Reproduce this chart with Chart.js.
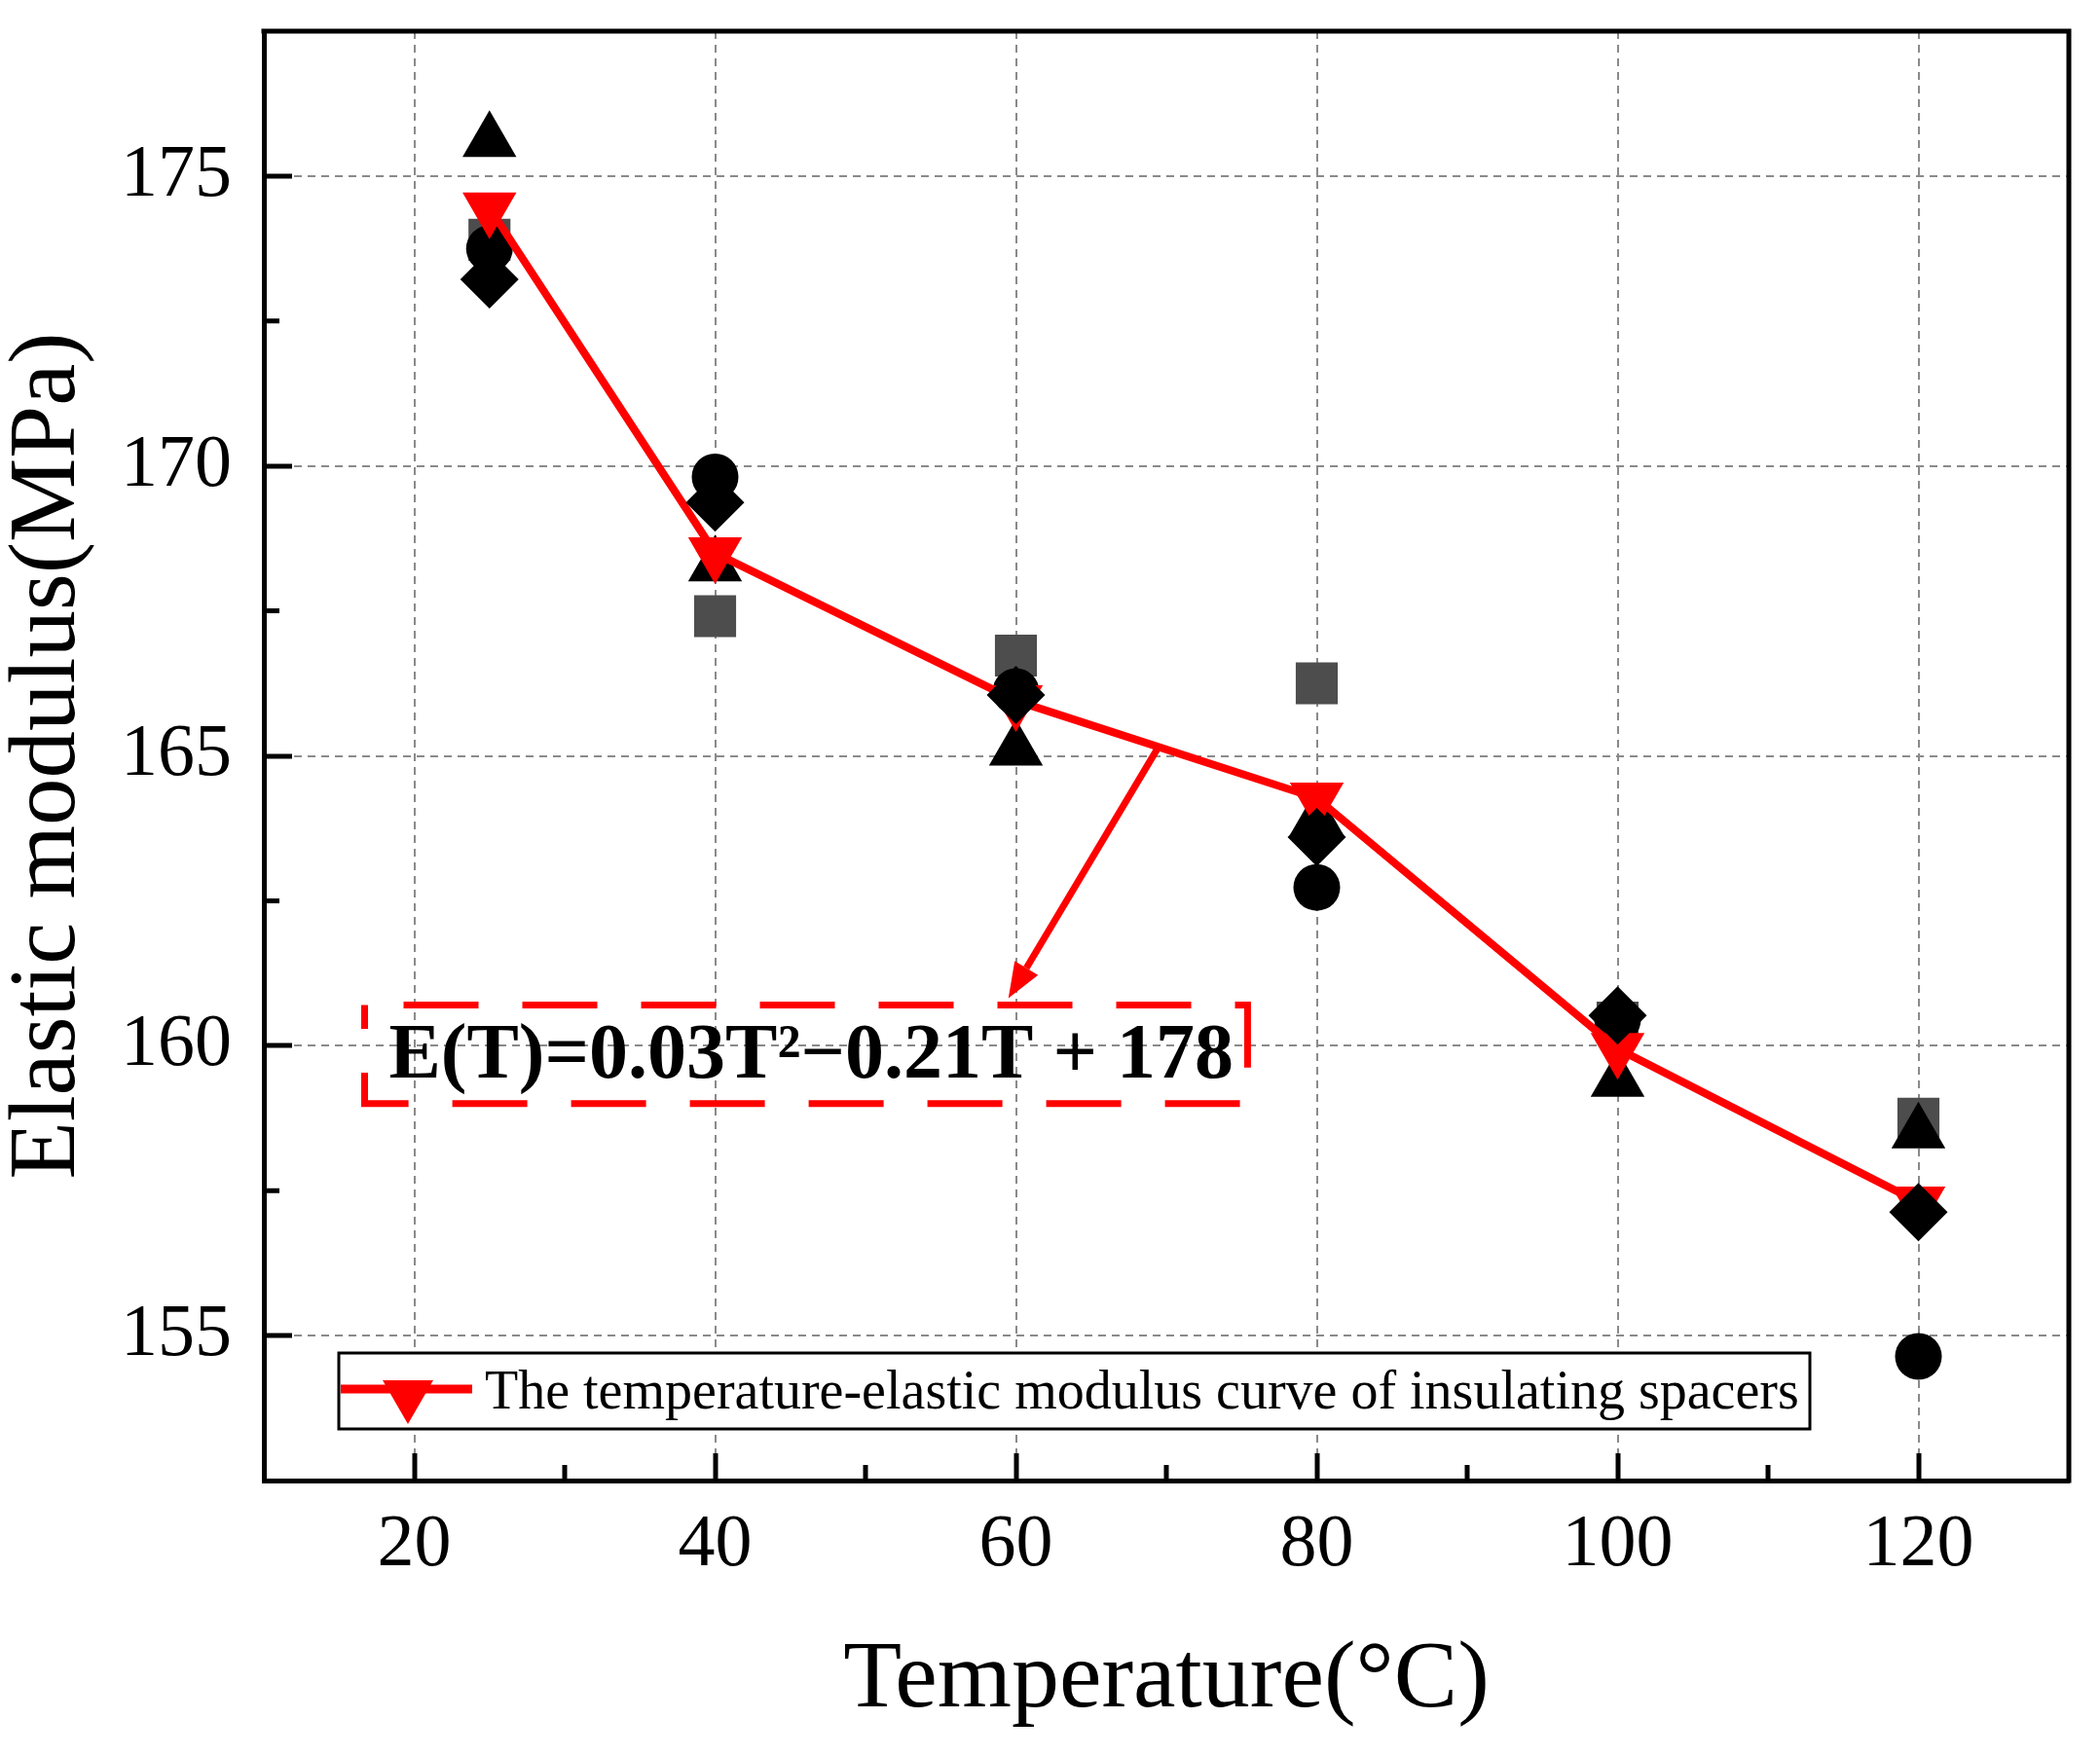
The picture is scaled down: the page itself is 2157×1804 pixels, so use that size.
<!DOCTYPE html>
<html>
<head>
<meta charset="utf-8">
<title>Elastic modulus vs temperature</title>
<script src="https://cdn.jsdelivr.net/npm/chart.js@4.4.0/dist/chart.umd.min.js"></script>
<style>
  html, body { margin: 0; padding: 0; background: #fff; }
  #wrap { width: 2157px; height: 1804px; }
</style>
</head>
<body>
<div id="wrap"><canvas id="chart"></canvas></div>
<script>
// temperatures of the tests (°C)
const temperatures = [25, 40, 60, 80, 100, 120];
// fitted curve, red line (MPa)
const curveValues = [174.45, 168.5, 165.95, 164.27, 159.95, 157.3];
// measured specimens (MPa)
const squareValues = [173.9, 167.41, 166.73, 166.25, 160.4, 158.74];
const circleValues = [173.75, 169.81, 166.11, 162.73, 160.45, 154.64];
const triangleValues = [175.6, 168.28, 165.1, 163.9, 159.39, 158.5];
const diamondValues = [173.22, 169.37, 166.05, 163.6, 160.52, 157.13];

// tick labels
const xTickValues = [20, 40, 60, 80, 100, 120];
const yTickValues = [155, 160, 165, 170, 175];

const curveLabel = 'The temperature-elastic modulus curve of insulating spacers';
const fitEquation = 'E(T)=0.03T\u00B2\u22120.21T + 178';

// where the equation box and its arrow sit, in data units
const fitBox = { xMin: 16.7, xMax: 75.4, yMin: 159.0, yMax: 160.7 };
const fitArrow = { x1: 69.4, y1: 165.12, x2: 59.5, y2: 160.82 };

const serif = "'Liberation Serif', 'Times New Roman', serif";
const RED = '#ff0000';

function toPoints(values) {
    return temperatures.map((t, i) => ({ x: t, y: values[i] }));
}

// keep the plot area where it is, whatever the edge labels want
function noEdgePadding(s) {
    s.paddingTop = 0;
    s.paddingBottom = 0;
    s.paddingLeft = 0;
    s.paddingRight = 0;
}

// minor ticks halfway between the major ones, frame on top and right
const axisDecor = {
    id: 'axisDecor',
    afterDraw(chart) {
        const { ctx, chartArea: a, scales } = chart;
        ctx.save();
        ctx.strokeStyle = '#000';
        ctx.lineWidth = 5;
        ctx.beginPath();
        ctx.moveTo(a.left - 2.5, a.top);
        ctx.lineTo(a.right, a.top);
        ctx.lineTo(a.right, a.bottom + 2.5);
        ctx.stroke();

        ctx.beginPath();
        for (let i = 1; i < xTickValues.length; i++) {
            const px = scales.x.getPixelForValue((xTickValues[i - 1] + xTickValues[i]) / 2);
            ctx.moveTo(px, a.bottom);
            ctx.lineTo(px, a.bottom - 16);
        }
        for (let i = 1; i < yTickValues.length; i++) {
            const py = scales.y.getPixelForValue((yTickValues[i - 1] + yTickValues[i]) / 2);
            ctx.moveTo(a.left, py);
            ctx.lineTo(a.left + 16, py);
        }
        ctx.stroke();
        ctx.restore();
    }
};

// dashed equation box with an arrow pointing to it
const fitNote = {
    id: 'fitNote',
    afterDatasetsDraw(chart) {
        const { ctx, scales: { x, y } } = chart;
        const left = x.getPixelForValue(fitBox.xMin);
        const right = x.getPixelForValue(fitBox.xMax);
        const top = y.getPixelForValue(fitBox.yMax);
        const bottom = y.getPixelForValue(fitBox.yMin);
        ctx.save();
        ctx.strokeStyle = RED;
        ctx.lineWidth = 7;
        ctx.setLineDash([77, 45]);
        ctx.lineDashOffset = -40;
        ctx.strokeRect(left, top, right - left, bottom - top);
        ctx.setLineDash([]);

        ctx.fillStyle = '#000';
        ctx.font = 'bold 80px ' + serif;
        ctx.textBaseline = 'alphabetic';
        ctx.textAlign = 'left';
        ctx.fillText(fitEquation, left + 25, bottom - 27);

        const ax1 = x.getPixelForValue(fitArrow.x1), ay1 = y.getPixelForValue(fitArrow.y1);
        const ax2 = x.getPixelForValue(fitArrow.x2), ay2 = y.getPixelForValue(fitArrow.y2);
        const ang = Math.atan2(ay2 - ay1, ax2 - ax1);
        const head = 36, half = 14;
        const bx = ax2 - Math.cos(ang) * head, by = ay2 - Math.sin(ang) * head;
        ctx.strokeStyle = RED;
        ctx.fillStyle = RED;
        ctx.lineWidth = 7;
        ctx.beginPath();
        ctx.moveTo(ax1, ay1);
        ctx.lineTo(bx, by);
        ctx.stroke();
        ctx.beginPath();
        ctx.moveTo(ax2, ay2);
        ctx.lineTo(bx + Math.sin(ang) * half, by - Math.cos(ang) * half);
        ctx.lineTo(bx - Math.sin(ang) * half, by + Math.cos(ang) * half);
        ctx.closePath();
        ctx.fill();
        ctx.restore();
    }
};

// boxed legend in the lower left corner of the plot
const boxLegend = {
    id: 'boxLegend',
    afterDraw(chart) {
        const { ctx, chartArea: a } = chart;
        const ds = chart.data.datasets.find(d => d.label === curveLabel);
        const left = a.left + 77, top = a.bottom - 131;
        const w = 1511, h = 78;
        const cy = top + h / 2;
        ctx.save();
        ctx.fillStyle = '#fff';
        ctx.fillRect(left, top, w, h);
        ctx.strokeStyle = '#000';
        ctx.lineWidth = 3;
        ctx.strokeRect(left, top, w, h);

        ctx.strokeStyle = ds.borderColor;
        ctx.lineWidth = 9;
        ctx.beginPath();
        ctx.moveTo(left + 2, cy - 2);
        ctx.lineTo(left + 137, cy - 2);
        ctx.stroke();

        // downward triangle like the curve markers
        const mx = left + 71, my = cy + 4, r = 30;
        ctx.fillStyle = ds.pointBackgroundColor;
        ctx.beginPath();
        ctx.moveTo(mx, my + r);
        ctx.lineTo(mx - r * 0.866, my - r / 2);
        ctx.lineTo(mx + r * 0.866, my - r / 2);
        ctx.closePath();
        ctx.fill();

        ctx.fillStyle = '#000';
        ctx.font = '56px ' + serif;
        ctx.textBaseline = 'alphabetic';
        ctx.fillText(ds.label, left + 150, top + 57);
        ctx.restore();
    }
};

const pointBase = { showLine: false, pointBorderWidth: 0, pointHoverRadius: 0 };

// first dataset is drawn on top
new Chart(document.getElementById('chart'), {
    type: 'scatter',
    data: {
        datasets: [
            { ...pointBase, label: 'diamond', data: toPoints(diamondValues),
              pointStyle: 'rectRot', pointRadius: 30, backgroundColor: '#000', pointBackgroundColor: '#000' },
            {
                label: curveLabel,
                data: toPoints(curveValues),
                showLine: true,
                borderColor: RED,
                backgroundColor: RED,
                borderWidth: 8,
                pointStyle: 'triangle',
                pointRotation: 180,
                pointRadius: 32,
                pointBackgroundColor: RED,
                pointBorderWidth: 0
            },
            { ...pointBase, label: 'triangle', data: toPoints(triangleValues),
              pointStyle: 'triangle', pointRadius: 32, backgroundColor: '#000', pointBackgroundColor: '#000' },
            { ...pointBase, label: 'circle', data: toPoints(circleValues),
              pointStyle: 'circle', pointRadius: 24, backgroundColor: '#000', pointBackgroundColor: '#000' },
            { ...pointBase, label: 'square', data: toPoints(squareValues),
              pointStyle: 'rect', pointRadius: 30.5, backgroundColor: '#4d4d4d', pointBackgroundColor: '#4d4d4d' }
        ]
    },
    options: {
        responsive: true,
        maintainAspectRatio: false,
        devicePixelRatio: 1,
        animation: false,
        events: [],
        layout: { padding: { top: 25, right: 28, bottom: 0, left: 0 } },
        plugins: {
            legend: { display: false },
            tooltip: { enabled: false }
        },
        scales: {
            x: {
                type: 'linear',
                min: 10,
                max: 130,
                afterBuildTicks: s => { s.ticks = xTickValues.map(v => ({ value: v })); },
                afterFit: s => { s.height = 283; noEdgePadding(s); },
                grid: { color: '#8a8a8a', lineWidth: 2, drawTicks: true, tickLength: -28,
                        tickColor: '#000', tickWidth: 5 },
                border: { display: true, color: '#000', width: 5, dash: [8, 6] },
                ticks: { color: '#000', padding: 49, font: { family: serif, size: 76, lineHeight: 1.2 } },
                title: { display: true, text: 'Temperature(\u00B0C)', color: '#000',
                         font: { family: serif, size: 98, lineHeight: 1 }, padding: { top: 0, bottom: 28 } }
            },
            y: {
                type: 'linear',
                min: 152.5,
                max: 177.5,
                afterBuildTicks: s => { s.ticks = yTickValues.map(v => ({ value: v })); },
                afterFit: s => { s.width = 271; noEdgePadding(s); },
                grid: { color: '#8a8a8a', lineWidth: 2, drawTicks: true, tickLength: -29,
                        tickColor: '#000', tickWidth: 5 },
                border: { display: true, color: '#000', width: 5, dash: [8, 6] },
                ticks: { color: '#000', padding: 62, font: { family: serif, size: 76, lineHeight: 1.2 } },
                title: { display: true, text: 'Elastic modulus(MPa)', color: '#000',
                         font: { family: serif, size: 97, lineHeight: 1 }, padding: { top: 2, bottom: 0 } }
            }
        }
    },
    plugins: [axisDecor, fitNote, boxLegend]
});
</script>
</body>
</html>
